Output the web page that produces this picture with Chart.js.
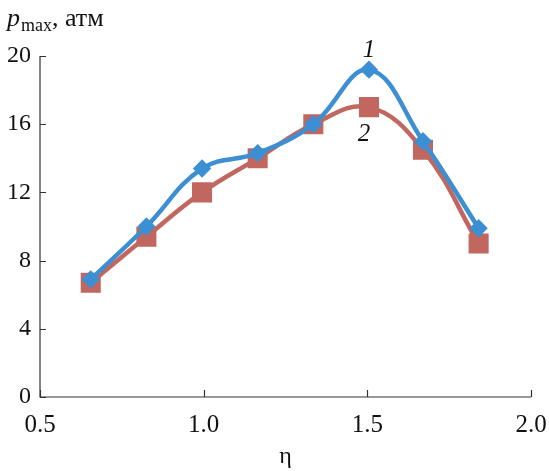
<!DOCTYPE html>
<html><head><meta charset="utf-8">
<script src="https://cdn.jsdelivr.net/npm/chart.js@4.4.1/dist/chart.umd.min.js"></script>
<style>html,body{margin:0;padding:0;background:#fff}#wrap{width:549px;height:471px}</style>
</head><body><div id="wrap"><canvas id="c" width="549" height="471"></canvas></div>
<script>
const etaValues = [0.655, 0.825, 0.995, 1.165, 1.335, 1.505, 1.67, 1.84];
const series1 = [6.9, 10.0, 13.4, 14.3, 16.0, 19.2, 15.0, 9.9];
const series2 = [6.7, 9.4, 12.0, 14.0, 16.0, 17.0, 14.5, 9.0];
const xTicks = [0.5, 1.0, 1.5, 2.0];
const yTicks = [0, 4, 8, 12, 16, 20];
const seriesLabels = ['1', '2'];

const SERIF = '"Liberation Serif", "DejaVu Serif", serif';
const AXIS = '#333';

const inwardTicks = {
  id: 'inwardTicks',
  afterDraw(chart) {
    const {ctx, chartArea: a, scales: {x, y}} = chart;
    ctx.save();
    ctx.strokeStyle = AXIS; ctx.lineWidth = 1.2;
    ctx.beginPath();
    ctx.moveTo(a.left, a.top); ctx.lineTo(a.left, a.bottom); ctx.lineTo(a.right, a.bottom);
    yTicks.forEach(v => { const p = Math.round(y.getPixelForValue(v)) + 0.5; ctx.moveTo(a.left, p); ctx.lineTo(a.left + 6, p); });
    xTicks.forEach(v => { const p = Math.round(x.getPixelForValue(v)) + 0.5; ctx.moveTo(p, a.bottom); ctx.lineTo(p, a.bottom - 7); });
    ctx.stroke();
    // axis title p_max, атм
    ctx.fillStyle = '#111';
    ctx.textBaseline = 'alphabetic';
    let cx = 7;
    ctx.font = 'italic 26px ' + SERIF;
    ctx.fillText('p', cx, 26); cx += ctx.measureText('p').width + 1;
    ctx.font = '18px ' + SERIF;
    ctx.fillText('max', cx, 31); cx += ctx.measureText('max').width;
    ctx.font = '26px ' + SERIF;
    ctx.fillText(', атм', cx, 26);
    // series labels
    ctx.font = 'italic 25px ' + SERIF;
    ctx.textAlign = 'center';
    ctx.textBaseline = 'middle';
    ctx.fillText(seriesLabels[0], x.getPixelForValue(1.505), 50);
    ctx.fillText(seriesLabels[1], x.getPixelForValue(1.49), 134);
    ctx.restore();
  }
};

new Chart(document.getElementById('c'), {
  type: 'line',
  data: {
    datasets: [
      { label: seriesLabels[0], data: etaValues.map((e, i) => ({x: e, y: series1[i]})),
        borderColor: '#3b8fd2', backgroundColor: '#3b8fd2', borderWidth: 4.5,
        pointStyle: 'rectRot', pointRadius: 6, tension: 0.4 },
      { label: seriesLabels[1], data: etaValues.map((e, i) => ({x: e, y: series2[i]})),
        borderColor: '#c1675f', backgroundColor: '#c1675f', borderWidth: 4.5,
        pointStyle: 'rect', pointRadius: 11, tension: 0.4 }
    ]
  },
  options: {
    responsive: false, animation: false,
    layout: { padding: { left: 0, right: 18, top: 56, bottom: 0 } },
    plugins: { legend: { display: false }, tooltip: { enabled: false } },
    scales: {
      x: { type: 'linear', min: 0.5, max: 2.0,
        afterBuildTicks: s => { s.ticks = xTicks.map(v => ({value: v})); },
        afterFit: s => { s.height = 74; s.paddingLeft = 0; s.paddingRight = 0; },
        grid: { display: false, drawTicks: false }, border: { display: false },
        ticks: { color: '#111', font: { family: SERIF, size: 25 }, padding: 13, callback: v => v.toFixed(1) },
        title: { display: true, text: 'η', color: '#111', font: { family: SERIF, size: 24 }, padding: { top: 0, bottom: 0 } }
      },
      y: { min: 0, max: 20,
        afterBuildTicks: s => { s.ticks = yTicks.map(v => ({value: v})); },
        afterFit: s => { s.width = 40; s.paddingTop = 0; s.paddingBottom = 0; },
        grid: { display: false, drawTicks: false }, border: { display: false },
        ticks: { color: '#111', font: { family: SERIF, size: 24 }, padding: 9 }
      }
    }
  },
  plugins: [inwardTicks]
});
</script></body></html>
